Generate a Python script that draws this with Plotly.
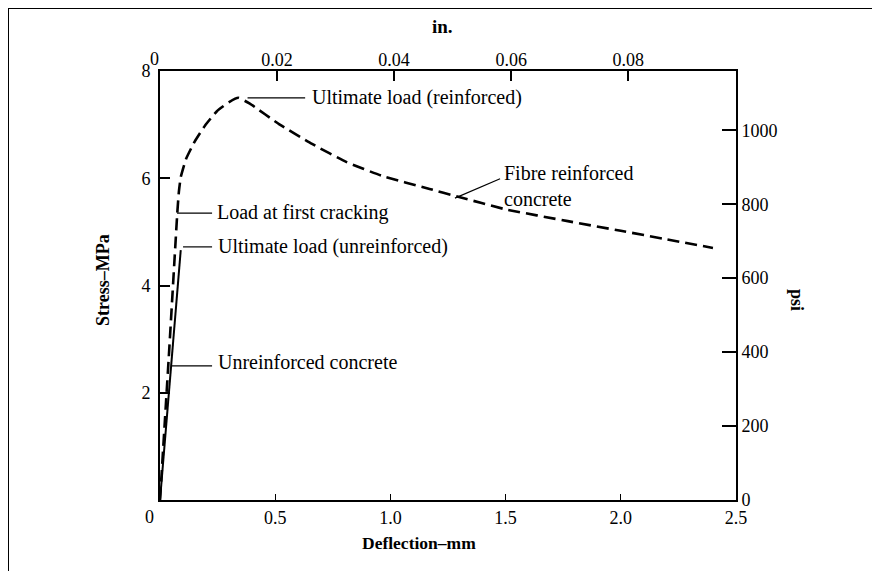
import plotly.graph_objects as go

# ---- data ----
fibre_mm = [0, 0.04, 0.075, 0.082, 0.09, 0.113, 0.15, 0.195, 0.247, 0.30, 0.34, 0.39,
            0.52, 0.66, 0.81, 0.96, 1.17, 1.29, 1.5, 1.77, 2.0, 2.2, 2.4]
fibre_mpa = [0, 2.8, 5.35, 5.75, 6.02, 6.36, 6.68, 6.98, 7.25, 7.42, 7.5, 7.39,
             7.0, 6.64, 6.30, 6.05, 5.80, 5.66, 5.42, 5.20, 5.02, 4.86, 4.70]
plain_mm = [0, 0.09]
plain_mpa = [0, 4.66]

mm_ticks = [0.5, 1.0, 1.5, 2.0, 2.5]
mm_labels = ["0.5", "1.0", "1.5", "2.0", "2.5"]
mpa_ticks = [2, 4, 6, 8]
in_ticks = [0.02, 0.04, 0.06, 0.08]
in_labels = ["0.02", "0.04", "0.06", "0.08"]
psi_ticks = [0, 200, 400, 600, 800, 1000]

X_MAX = 2.5
Y_MAX = 8
MM_PER_IN = 25.4
PSI_PER_MPA = 145.038

FONT = "Liberation Serif"
OFF = 8  # page body margin offset

fig = go.Figure()
fig.add_trace(go.Scatter(x=plain_mm, y=plain_mpa, mode="lines",
                         line=dict(color="black", width=2), showlegend=False, hoverinfo="skip"))
fig.add_trace(go.Scatter(x=fibre_mm, y=fibre_mpa, mode="lines",
                         line=dict(color="black", width=2.6, dash="12px,6px", shape="spline", smoothing=0.4),
                         showlegend=False, hoverinfo="skip"))
# invisible trace to activate secondary axes
fig.add_trace(go.Scatter(x=[0], y=[0], xaxis="x2", yaxis="y2", mode="markers",
                         marker=dict(opacity=0), showlegend=False, hoverinfo="skip"))

axis_common = dict(showgrid=False, zeroline=False, showline=True, linecolor="black",
                   linewidth=2, ticks="inside", tickcolor="black",
                   tickfont=dict(family=FONT, size=18, color="black"))

fig.update_layout(
    width=880 - OFF, height=571 - OFF,
    margin=dict(l=160 - OFF, r=144, t=71 - OFF, b=71),
    paper_bgcolor="white", plot_bgcolor="white",
    font=dict(family=FONT, color="black"),
    xaxis=dict(range=[0, X_MAX], tickvals=mm_ticks, ticktext=mm_labels, ticklen=6,
               tickwidth=1, ticklabelstandoff=0, **axis_common),
    yaxis=dict(range=[0, Y_MAX], tickvals=mpa_ticks, ticklen=10, tickwidth=1.5,
               ticklabelstandoff=4, **axis_common),
    xaxis2=dict(range=[0, X_MAX / MM_PER_IN], overlaying="x", side="top", anchor="y",
                tickvals=in_ticks, ticktext=in_labels, ticklen=10, tickwidth=1.5,
                ticklabelstandoff=-4, **axis_common),
    yaxis2=dict(range=[0, Y_MAX * PSI_PER_MPA], overlaying="y", side="right", anchor="x",
                tickvals=psi_ticks, ticklen=14, tickwidth=1.5, **axis_common),
)

def px_x(px):
    return (px - 160) / 576.0

def px_y(py):
    return (500 - py) / 429.0

def label(px, py, text, size, angle=0):
    return dict(xref="paper", yref="paper", x=px_x(px), y=px_y(py), text=text,
                showarrow=False, textangle=angle, xanchor="center", yanchor="middle",
                font=dict(size=size))

annos = [
    label(442, 27, "<b>in.</b>", 19),
    label(419, 543, "<b>Deflection–mm</b>", 17.5),
    label(103, 280, "<b>Stress–MPa</b>", 18, -90),
    label(797, 300, "<b>psi</b>", 18, 90),
    label(149, 517, "0", 18),
    label(154, 59, "0", 18),
]

# callouts (data coordinates)
callouts = [
    ("Ultimate load (reinforced)", (0.38, 7.5), (0.63, 7.5), (0.65, 7.5)),
    ("Load at first cracking", (0.074, 5.35), (0.226, 5.35), (0.24, 5.37)),
    ("Ultimate load (unreinforced)", (0.1, 4.72), (0.226, 4.72), (0.245, 4.72)),
    ("Unreinforced concrete", (0.052, 2.5), (0.226, 2.5), (0.245, 2.57)),
]
shapes = []
for text, p0, p1, tp in callouts:
    shapes.append(dict(type="line", xref="x", yref="y", x0=p0[0], y0=p0[1], x1=p1[0], y1=p1[1],
                       line=dict(color="black", width=1.2)))
    annos.append(dict(xref="x", yref="y", x=tp[0], y=tp[1], text=text, showarrow=False,
                      xanchor="left", yanchor="middle", font=dict(size=20)))
shapes.append(dict(type="line", xref="x", yref="y", x0=1.28, y0=5.63, x1=1.476, y1=5.99,
                   line=dict(color="black", width=1.2)))
annos.append(dict(xref="x", yref="y", x=1.485, y=5.86, text="Fibre reinforced<br>concrete",
                  showarrow=False, xanchor="left", yanchor="middle", align="left",
                  font=dict(size=20)))

# outer frame (left and top edges)
shapes.append(dict(type="line", xref="paper", yref="paper", x0=px_x(8), y0=px_y(8),
                   x1=px_x(8), y1=px_y(571), line=dict(color="black", width=2)))
shapes.append(dict(type="line", xref="paper", yref="paper", x0=px_x(8), y0=px_y(8),
                   x1=px_x(880), y1=px_y(8), line=dict(color="black", width=2)))

fig.update_layout(annotations=annos, shapes=shapes)
fig.write_html("out.html")
